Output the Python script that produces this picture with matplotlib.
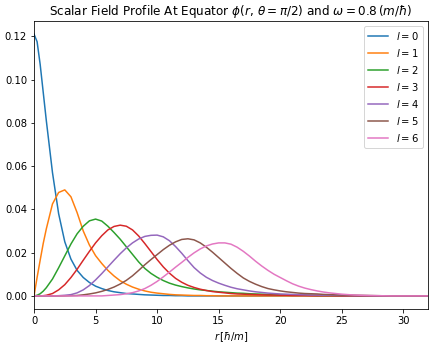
import matplotlib
matplotlib.use("Agg")
import matplotlib.pyplot as plt

# radius grid [hbar/m]
r = [0, 0.25, 0.5, 0.75, 1,
     1.5, 2, 2.5, 3, 3.5, 4, 4.5, 5,
     5.5, 6, 6.5, 7, 7.5, 8, 8.5, 9, 9.5, 10,
     10.5, 11, 11.5, 12, 12.5, 13, 13.5, 14, 14.5, 15,
     15.5, 16, 16.5, 17, 17.5, 18, 18.5, 19, 19.5, 20,
     20.5, 21, 21.5, 22, 22.5, 23, 23.5, 24,
     25, 26, 27, 28, 29, 30, 31, 32]

# field values, one list per l
phi_l0 = [0.121, 0.1175, 0.107, 0.094, 0.081,
          0.057, 0.038, 0.025, 0.017, 0.0118, 0.0085, 0.0062, 0.0045,
          0.0034, 0.0025, 0.0019, 0.0015, 0.0011, 0.0009, 0.0007, 0.0005, 0.0004, 0.0003,
          0.0002, 0.0002, 0.0001, 0.0001, 0, 0, 0, 0, 0, 0,
          0, 0, 0, 0, 0, 0, 0, 0, 0, 0,
          0, 0, 0, 0, 0, 0, 0, 0,
          0, 0, 0, 0, 0, 0, 0, 0]
phi_l1 = [0, 0.0085, 0.0165, 0.0243, 0.031,
          0.0425, 0.0478, 0.0490, 0.0458, 0.0385, 0.0300, 0.0235, 0.0186,
          0.0150, 0.0118, 0.0092, 0.0070, 0.0054, 0.0041, 0.0031, 0.0023, 0.0017, 0.0013,
          0.0010, 0.0007, 0.0005, 0.0004, 0.0003, 0.0002, 0.0002, 0.0001, 0.0001, 0,
          0, 0, 0, 0, 0, 0, 0, 0, 0, 0,
          0, 0, 0, 0, 0, 0, 0, 0,
          0, 0, 0, 0, 0, 0, 0, 0]
phi_l2 = [0, 0.0003, 0.001, 0.0022, 0.0038,
          0.0078, 0.013, 0.0185, 0.024, 0.0287, 0.0322, 0.0347, 0.0355,
          0.0346, 0.0322, 0.0293, 0.0262, 0.0227, 0.0192, 0.0157, 0.0127, 0.0104, 0.0086,
          0.0071, 0.0059, 0.0050, 0.0043, 0.0037, 0.0032, 0.0028, 0.0025, 0.0022, 0.0019,
          0.0017, 0.0015, 0.0013, 0.0012, 0.0010, 0.0009, 0.0008, 0.0007, 0.0006, 0.0005,
          0.0005, 0.0004, 0.0004, 0.0003, 0.0003, 0.0002, 0.0002, 0.0002,
          0.0001, 0.0001, 0, 0, 0, 0, 0, 0]
phi_l3 = [0, 0, 0, 0.0001, 0.0003,
          0.0011, 0.0028, 0.0052, 0.0085, 0.0123, 0.0165, 0.0206, 0.0245,
          0.0278, 0.0305, 0.0321, 0.0327, 0.0322, 0.0305, 0.0277, 0.0242, 0.0205, 0.0168,
          0.0134, 0.0105, 0.0081, 0.0063, 0.0049, 0.0039, 0.0031, 0.0025, 0.0020, 0.0017,
          0.0014, 0.0011, 0.0009, 0.0008, 0.0007, 0.0006, 0.0005, 0.0004, 0.0004, 0.0003,
          0.0003, 0.0002, 0.0002, 0.0002, 0.0001, 0.0001, 0.0001, 0.0001,
          0, 0, 0, 0, 0, 0, 0, 0]
phi_l4 = [0, 0, 0, 0, 0,
          0, 0.0001, 0.0003, 0.0006, 0.0014, 0.0028, 0.0048, 0.0074,
          0.0103, 0.0134, 0.0165, 0.0195, 0.0222, 0.0245, 0.0263, 0.0275, 0.0280, 0.0281,
          0.0273, 0.0255, 0.0228, 0.0197, 0.0163, 0.0131, 0.0106, 0.0086, 0.0071, 0.0059,
          0.0049, 0.0040, 0.0033, 0.0028, 0.0023, 0.0019, 0.0016, 0.0013, 0.0011, 0.0009,
          0.0008, 0.0007, 0.0006, 0.0005, 0.0004, 0.0004, 0.0003, 0.0003,
          0.0002, 0.0001, 0.0001, 0, 0, 0, 0, 0]
phi_l5 = [0, 0, 0, 0, 0,
          0, 0, 0, 0.0001, 0.0002, 0.0005, 0.0009, 0.0014,
          0.0021, 0.0030, 0.0041, 0.0055, 0.0072, 0.0093, 0.0118, 0.0144, 0.0168, 0.0191,
          0.0214, 0.0234, 0.0250, 0.0261, 0.0264, 0.0259, 0.0245, 0.0225, 0.0202, 0.0177,
          0.0152, 0.0127, 0.0104, 0.0083, 0.0067, 0.0054, 0.0043, 0.0034, 0.0028, 0.0023,
          0.0019, 0.0016, 0.0013, 0.0011, 0.0010, 0.0009, 0.0007, 0.0006,
          0.0004, 0.0003, 0.0002, 0.0001, 0, 0, 0, 0]
phi_l6 = [0, 0, 0, 0, 0,
          0, 0, 0, 0, 0, 0, 0, 0,
          0, 0.0002, 0.0004, 0.0006, 0.0010, 0.0015, 0.0023, 0.0034, 0.0049, 0.0067,
          0.0088, 0.0110, 0.0133, 0.0155, 0.0178, 0.0199, 0.0217, 0.0231, 0.0240, 0.0245,
          0.0245, 0.0239, 0.0225, 0.0206, 0.0184, 0.0160, 0.0138, 0.0118, 0.0100, 0.0085,
          0.0070, 0.0056, 0.0045, 0.0036, 0.0029, 0.0023, 0.0018, 0.0014,
          0.0008, 0.0004, 0.0002, 0.0001, 0, 0, 0, 0]

profiles = [phi_l0, phi_l1, phi_l2, phi_l3, phi_l4, phi_l5, phi_l6]

fig = plt.figure(figsize=(436 / 72, 347 / 72), dpi=72)
ax = fig.add_axes([0.078, 0.1095, 0.9037, 0.83])

for l, phi in enumerate(profiles):
    ax.plot(r, phi, label=r"$l = %d$" % l)

ax.set_xlim(0, 32)
ax.set_xlabel(r"$r\,[\hbar/m]$")
ax.set_title(r"Scalar Field Profile At Equator $\phi(r,\,\theta = \pi/2)$ and $\omega = 0.8\,(m/\hbar)$")
ax.legend(loc="upper right")

fig.savefig("out.png", dpi=72)
